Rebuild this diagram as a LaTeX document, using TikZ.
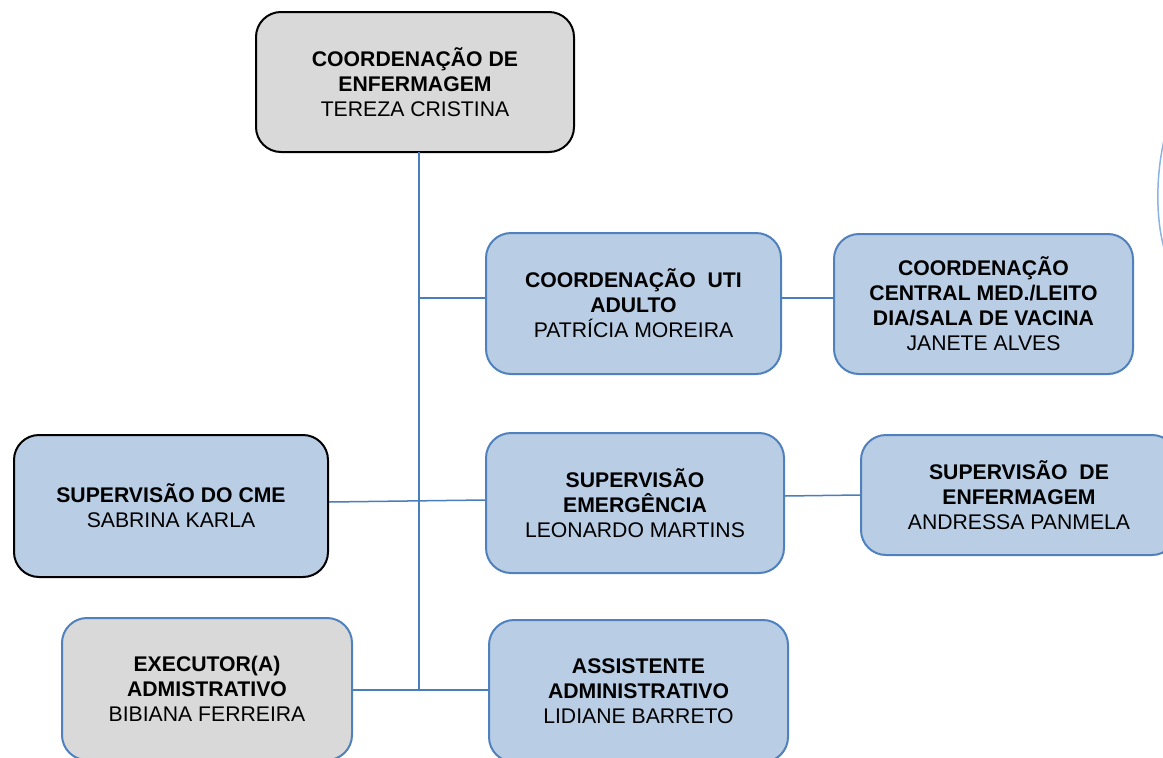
\documentclass[tikz,border=0pt]{standalone}
\usepackage{fontspec}
\setmainfont{Liberation Sans}
\definecolor{boxgray}{HTML}{D9D9D9}
\definecolor{boxblue}{HTML}{B9CDE5}
\definecolor{edgeblue}{HTML}{4F81BD}
\definecolor{linkblue}{HTML}{4A7EBB}
\definecolor{arcblue}{HTML}{8DB3E2}
\begin{document}
\begin{tikzpicture}[x=1pt,y=-1pt,
  orgbox/.style={rounded corners=25pt, line width=2pt, align=center, inner sep=0pt,
    font=\fontsize{21.2}{25}\selectfont},
  bluebox/.style={orgbox, draw=edgeblue, fill=boxblue},
  blackblue/.style={orgbox, draw=black, fill=boxblue},
  blackgray/.style={orgbox, draw=black, fill=boxgray},
  bluegray/.style={orgbox, draw=edgeblue, fill=boxgray},
  link/.style={draw=linkblue, line width=1.5pt}]
\useasboundingbox (0,0) rectangle (1163,758);
\clip (0,0) rectangle (1163,758);
\fill[white] (0,0) rectangle (1163,758);

\node[blackgray, minimum width=318pt, minimum height=140pt] (top) at (415,82)
  {\textbf{COORDENAÇÃO DE}\\\textbf{ENFERMAGEM}\\TEREZA CRISTINA};
\node[bluebox, minimum width=295pt, minimum height=141pt] (uti) at (633.5,303.5)
  {\textbf{COORDENAÇÃO\ \ UTI}\\\textbf{ADULTO}\\PATRÍCIA MOREIRA};
\node[bluebox, minimum width=299pt, minimum height=140pt] (central) at (983.5,304)
  {\textbf{COORDENAÇÃO}\\\textbf{CENTRAL MED./LEITO}\\\textbf{DIA/SALA DE VACINA}\\JANETE ALVES};
\node[blackblue, minimum width=314pt, minimum height=142pt] (cme) at (171,506)
  {\textbf{SUPERVISÃO DO CME}\\SABRINA KARLA};
\node[bluebox, minimum width=298pt, minimum height=140pt] (emerg) at (635,503)
  {\textbf{SUPERVISÃO}\\\textbf{EMERGÊNCIA}\\LEONARDO MARTINS};
\node[bluebox, minimum width=316pt, minimum height=120pt] (enf) at (1019,495)
  {\textbf{SUPERVISÃO\ \ DE}\\\textbf{ENFERMAGEM}\\ANDRESSA PANMELA};
\node[bluegray, minimum width=290pt, minimum height=142pt] (exec) at (207,689)
  {\textbf{EXECUTOR(A)}\\\textbf{ADMISTRATIVO}\\BIBIANA FERREIRA};
\node[bluebox, minimum width=299pt, minimum height=142pt] (assist) at (638.5,691)
  {\textbf{ASSISTENTE}\\\textbf{ADMINISTRATIVO}\\LIDIANE BARRETO};

\coordinate (tstart) at (419,152);
\coordinate (tend) at (419,690);
\coordinate (tuti) at (419,298);
\path[link] (tstart) -- (tend);
\path[link] (tuti) -- (tuti -| uti.west);
\path[link] ([yshift=5.5pt]uti.east) -- ([yshift=6pt]central.west);
\path[link] ([yshift=4pt]cme.east) -- ([yshift=3pt]emerg.west);
\path[link] ([yshift=7pt]emerg.east) -- (enf.west);
\path[link] ([yshift=-1pt]exec.east) -- ([yshift=1pt]assist.west);

\draw[arcblue, line width=1.5pt] (1166,132) .. controls (1156,170) and (1155,215) .. (1164,248);
\end{tikzpicture}
\end{document}
